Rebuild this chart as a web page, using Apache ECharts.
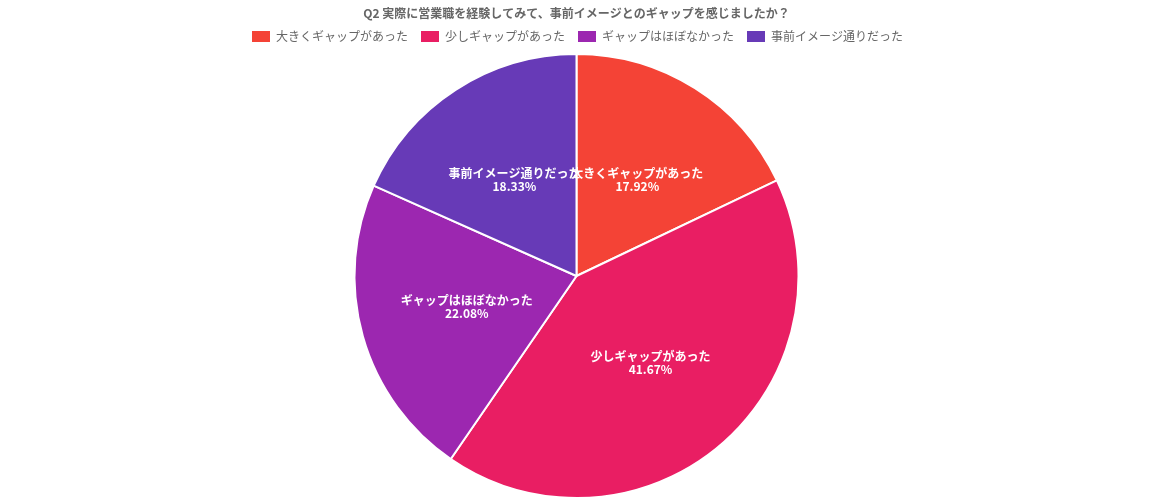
<!DOCTYPE html>
<html><head><meta charset="utf-8">
<script src="https://cdn.jsdelivr.net/npm/echarts@6/dist/echarts.min.js"></script>
<style>html,body{margin:0;padding:0;background:#fff}#c{width:1153px;height:500px}</style>
</head><body><div id="c"></div>
<script>
const titleText = 'Q2 実際に営業職を経験してみて、事前イメージとのギャップを感じましたか？';
const categories = ['大きくギャップがあった', '少しギャップがあった', 'ギャップはほぼなかった', '事前イメージ通りだった'];
const values = [43, 100, 53, 44];
const colors = ['#f44336', '#e91e63', '#9c27b0', '#673ab7'];
const font = '"Noto Sans CJK JP", "Noto Sans", sans-serif';
const chart = echarts.init(document.getElementById('c'));
chart.setOption({
  animation: false,
  color: colors,
  title: { text: titleText, left: 'center', top: 2, textStyle: { fontSize: 12, fontWeight: 'bold', color: '#666', fontFamily: font } },
  legend: {
    top: 24, left: 'center', itemWidth: 20, itemHeight: 13, itemGap: 11, icon: 'rect',
    textStyle: { fontSize: 12, color: '#666', fontFamily: font },
    data: categories
  },
  series: [{
    type: 'pie',
    center: ['50%', 276],
    radius: 222,
    startAngle: 90,
    clockwise: true,
    itemStyle: { borderColor: '#fff', borderWidth: 2 },
    label: {
      position: 'inside',
      formatter: p => p.name + '\n' + p.percent.toFixed(2) + '%',
      color: '#fff', fontSize: 12, fontWeight: 'bold', lineHeight: 13, fontFamily: font
    },
    labelLayout: { hideOverlap: false },
    labelLine: { show: false },
    data: categories.map((c, i) => ({ name: c, value: values[i] }))
  }]
});
</script></body></html>
